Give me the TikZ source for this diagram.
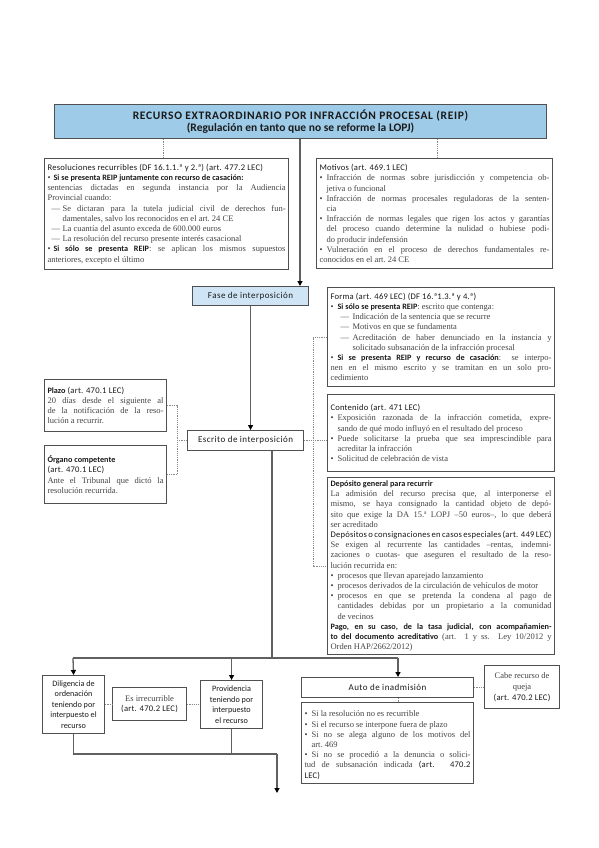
\documentclass[tikz,border=0pt]{standalone}
\usepackage{fontspec}
\usepackage{graphicx}
\setmainfont{Liberation Serif}
\newfontfamily\hd{Carlito}
\newfontfamily\hdls{Carlito}[LetterSpace=2.5]
\newfontfamily\hdlab{Carlito}[LetterSpace=5]
\usetikzlibrary{arrows.meta}
\definecolor{boxc}{HTML}{505050}
\definecolor{linec}{HTML}{606060}
\definecolor{dshc}{HTML}{8A8A8A}
\definecolor{txtc}{HTML}{454545}
\definecolor{hdc}{HTML}{1A1A1A}
\definecolor{titlefill}{HTML}{9DCBE8}
\definecolor{fasefill}{HTML}{CFE5F5}
\setlength{\parindent}{0pt}
\tolerance=10000
\hbadness=10000
\hyphenpenalty=10000
\exhyphenpenalty=10000
\newcommand{\bodysize}{\fontsize{8.5}{10.2}\selectfont}
\newcommand{\hdr}[1]{{\hdls\fontsize{8.6}{10.2}\selectfont\color{hdc}#1}}
\newcommand{\bb}[1]{{\hd\bfseries\fontsize{8.2}{10.2}\selectfont\color{hdc}#1}}
\newcommand{\sr}[1]{{\rmfamily\bodysize\color{txtc}#1}}
\newcommand{\bitem}{\par\noindent\hangindent=7pt\hangafter=1\makebox[7pt][l]{\textbullet}}
\newcommand{\bitemn}{\par\noindent\makebox[6pt][l]{\textbullet}}
\newcommand{\ditem}{\par\noindent\hangindent=15pt\hangafter=1\hspace*{4pt}\makebox[11pt][l]{—}}
\newcommand{\fditem}{\par\noindent\hangindent=22pt\hangafter=1\hspace*{10pt}\makebox[12pt][l]{—}}
\tikzset{
  tb/.style={draw=boxc, line width=1.1pt, fill=white, inner sep=3pt, anchor=north west, align=justify, text=txtc, font=\bodysize},
  lb/.style={draw=boxc, line width=1.1pt, fill=white, inner sep=2pt, anchor=north west, align=center, text=hdc, font=\hdlab\fontsize{9}{10.6}\selectfont},
  sb/.style={lb, font=\hd\fontsize{8.2}{10.6}\selectfont},
  conn/.style={draw=linec, line width=1.3pt},
  arr/.style={conn, -{Triangle[length=5pt,width=5pt,black]}},
  dsh/.style={draw=dshc, line width=0.6pt, dash pattern=on 1.2pt off 1pt},
}
\begin{document}
\begin{tikzpicture}[x=1pt,y=-1pt]
\useasboundingbox[fill=white] (0,0) rectangle (599,848);

% top
\node[lb, fill=titlefill, minimum width=492pt, minimum height=34pt, font=\hd\bfseries\fontsize{11.5}{12.7}\selectfont] (title) at (54,104)
 {{\addfontfeature{LetterSpace=6}RECURSO EXTRAORDINARIO POR INFRACCIÓN PROCESAL (REIP)}\\(Regulación en tanto que no se reforme la LOPJ)};

\node[tb, text width=238pt, minimum height=111pt] (resol) at (44,158) {%
\hdr{Resoluciones recurribles (DF 16.1.1.ª y 2.ª) (art. 477.2 LEC)}
\bitemn\bb{Si se presenta REIP juntamente con recurso de casación:}\hfil\break sentencias dictadas en segunda instancia por la Audiencia\linebreak Provincial cuando:
\ditem Se dictaran para la tutela judicial civil de derechos fun-\linebreak damentales, salvo los reconocidos en el art.~24 CE
\ditem La cuantía del asunto exceda de 600.000 euros
\ditem La resolución del recurso presente interés casacional
\bitemn\bb{Si sólo se presenta REIP}: se aplican los mismos supuestos\linebreak anteriores, excepto el último};

\node[tb, text width=230pt, minimum height=110pt] (motivos) at (316,158) {%
\hdr{Motivos (art. 469.1 LEC)}
\bitem Infracción de normas sobre jurisdicción y competencia ob-\linebreak jetiva o funcional
\bitem Infracción de normas procesales reguladoras de la senten-\linebreak cia
\bitem Infracción de normas legales que rigen los actos y garantías\linebreak del proceso cuando determine la nulidad o hubiese podi-\linebreak do producir indefensión
\bitem Vulneración en el proceso de derechos fundamentales re-\linebreak conocidos en el art.~24 CE};

\node[lb, fill=fasefill, minimum width=116pt, minimum height=19pt] (fase) at (192,286) {Fase de interposición};

% right column
\node[tb, text width=221pt, minimum height=99pt] (forma) at (327,287) {%
\hdr{Forma (art. 469 LEC) (DF 16.ª1.3.ª y 4.ª)}
\bitem\bb{Si sólo se presenta REIP}: escrito que contenga:
\fditem Indicación de la sentencia que se recurre
\fditem Motivos en que se fundamenta
\fditem Acreditación de haber denunciado en la instancia y\linebreak solicitado subsanación de la infracción procesal
\bitem\bb{Si se presenta REIP y recurso de casación}: se interpo-\linebreak nen en el mismo escrito y se tramitan en un solo pro-\linebreak cedimiento};

\node[tb, text width=221pt, minimum height=77pt] (contenido) at (327,394) {%
\hdr{Contenido (art. 471 LEC)}
\bitem Exposición razonada de la infracción cometida, expre-\linebreak sando de qué modo influyó en el resultado del proceso
\bitem Puede solicitarse la prueba que sea imprescindible para\linebreak acreditar la infracción
\bitem Solicitud de celebración de vista};

\node[tb, text width=221pt, minimum height=177pt] (deposito) at (327,477) {%
\bb{Depósito general para recurrir}\par
La admisión del recurso precisa que, al interponerse el\linebreak mismo, se haya consignado la cantidad objeto de depó-\linebreak sito que exige la DA 15.ª LOPJ –50 euros–, lo que deberá\linebreak ser acreditado\par
\hdr{Depósitos o consignaciones en casos especiales (art. 449 LEC)}\par
Se exigen al recurrente las cantidades –rentas, indemni-\linebreak zaciones o cuotas- que aseguren el resultado de la reso-\linebreak lución recurrida en:
\bitem procesos que llevan aparejado lanzamiento
\bitem procesos derivados de la circulación de vehículos de motor
\bitem procesos en que se pretenda la condena al pago de\linebreak cantidades debidas por un propietario a la comunidad\linebreak de vecinos
\par\bb{Pago, en su caso, de la tasa judicial, con acompañamien-\linebreak to del documento acreditativo} (art. 1 y ss. Ley 10/2012 y\linebreak Orden HAP/2662/2012)};

% left column
\node[tb, text width=116pt, minimum height=52pt] (plazo) at (44,379) {%
\bb{Plazo} \hdr{(art. 470.1 LEC)}\par
20 días desde el siguiente al\linebreak de la notificación de la reso-\linebreak lución a recurrir.};

\node[tb, text width=116pt, minimum height=58pt] (organo) at (44,445) {%
\bb{Órgano competente}\par
\hdr{(art. 470.1 LEC)}\par
Ante el Tribunal que dictó la\linebreak resolución recurrida.};

\node[lb, minimum width=116pt, minimum height=20pt] (escrito) at (187,430) {Escrito de interposición};

% bottom
\node[sb, minimum width=62pt, minimum height=58pt] (diligencia) at (42,675) {Diligencia de\\ordenación\\teniendo por\\interpuesto el\\recurso};
\node[sb, minimum width=74pt, minimum height=33pt] (irrec) at (112,687) {\sr{Es irrecurrible}\\\hdr{(art. 470.2 LEC)}};
\node[sb, minimum width=62pt, minimum height=48pt] (providencia) at (200,680) {Providencia\\teniendo por\\interpuesto\\el recurso};
\node[lb, minimum width=172pt, minimum height=20pt] (auto) at (301,677) {Auto de inadmisión};
\node[tb, text width=166pt, minimum height=81pt] (autobul) at (301,702) {%
\bitem Si la resolución no es recurrible
\bitem Si el recurso se interpone fuera de plazo
\bitem Si no se alega alguno de los motivos del\linebreak art.~469
\bitem Si no se procedió a la denuncia o solici-\linebreak tud de subsanación indicada \hdr{(art. 470.2}\linebreak\hdr{LEC)}};
\node[sb, minimum width=75pt, minimum height=43pt] (cabe) at (484,665) {\sr{Cabe recurso de}\\\sr{queja}\\\hdr{(art. 470.2 LEC)}};

% helper coordinates
\coordinate (xa) at (163,0);
\coordinate (xb) at (437,0);
\coordinate (xm) at (300,0);
\coordinate (xl) at (177,0);
\coordinate (xr) at (313,0);
\coordinate (xe) at (272,0);
\coordinate (busL) at (73,658);
\coordinate (busR) at (398,658);
\coordinate (bot) at (277,754);
\coordinate (endp) at (277,793);

% connectors
\draw[dsh] (title.south -| xa) -- (resol.north -| xa);
\draw[dsh] (title.south -| xb) -- (motivos.north -| xb);
\draw[arr] (title.south -| xm) -- (fase.north -| xm);
\draw[arr] (fase.south) -- (escrito.north -| fase.south);

\draw[dsh] (plazo.east) -- (plazo.east -| xl) -- (organo.east -| xl) -- (organo.east);
\draw[dsh] (escrito.west -| xl) -- (escrito.west);
\draw[dsh] (forma.west) -- (forma.west -| xr) -- (deposito.west -| xr) -- (deposito.west);
\draw[dsh] (escrito.east) -- (escrito.east -| contenido.west);

\draw[conn] (escrito.south -| xe) -- (busL -| xe);
\draw[conn] (busL) -- (busR);
\draw[arr] (busL) -- (diligencia.north);
\draw[arr] (busL -| providencia.north) -- (providencia.north);
\draw[arr] (busR) -- (auto.north -| busR);
\draw[dsh] (diligencia.east |- irrec.west) -- (irrec.west);
\draw[dsh] (irrec.east) -- (irrec.east -| providencia.west);
\draw[dsh] (auto.east) -- (auto.east -| cabe.west);
\draw[dsh] (auto.south -| busR) -- (autobul.north -| busR);

\draw[conn] (diligencia.south) -- (diligencia.south |- bot) -- (bot);
\draw[conn] (providencia.south) -- (providencia.south |- bot);
\draw[arr] (bot) -- (endp);
\end{tikzpicture}
\end{document}
